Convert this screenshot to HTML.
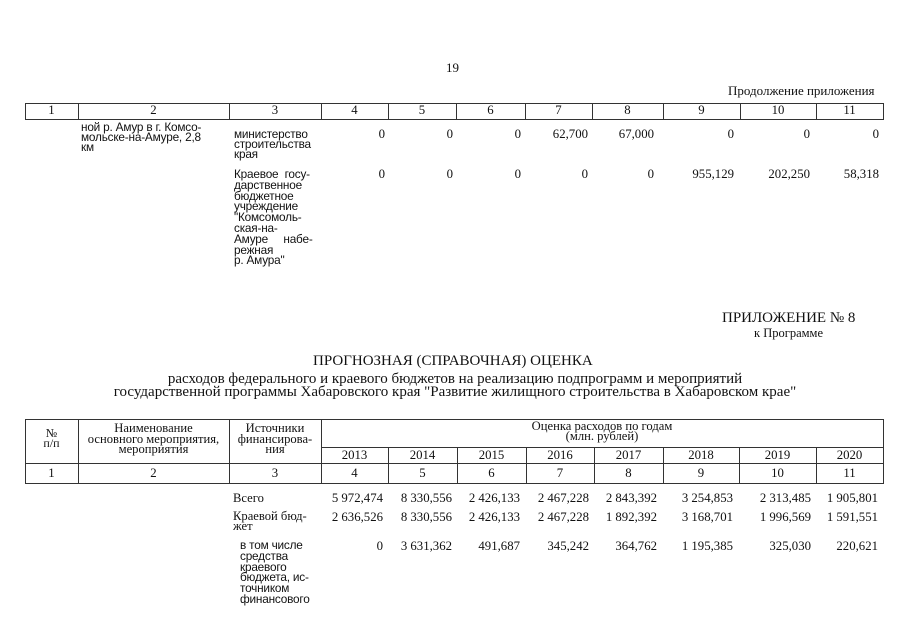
<!DOCTYPE html>
<html><head><meta charset="utf-8"><style>
body{margin:0;width:905px;height:640px;background:#fff;position:relative;overflow:hidden;font-family:"Liberation Serif",serif;color:#111}
.t{position:absolute;white-space:nowrap;font-size:12.8px;line-height:13px}
.r{text-align:right}
.c{text-align:center}
.s{font-family:"Liberation Sans",sans-serif;font-size:11.8px;line-height:10px;letter-spacing:-0.2px}
.h{position:absolute;height:1px;background:#333}
.v{position:absolute;width:1px;background:#333}
</style></head><body>
<div class="t" style="left:446px;top:61px;font-size:13px">19</div>
<div class="t" style="left:728px;top:84px;font-size:13px">Продолжение приложения</div>

<!-- top table -->
<div class="h" style="left:25px;width:859px;top:103px"></div>
<div class="h" style="left:25px;width:859px;top:119px"></div>
<div class="v" style="left:25px;top:103px;height:17px"></div>
<div class="v" style="left:78px;top:103px;height:17px"></div>
<div class="v" style="left:229px;top:103px;height:17px"></div>
<div class="v" style="left:321px;top:103px;height:17px"></div>
<div class="v" style="left:388px;top:103px;height:17px"></div>
<div class="v" style="left:456px;top:103px;height:17px"></div>
<div class="v" style="left:525px;top:103px;height:17px"></div>
<div class="v" style="left:592px;top:103px;height:17px"></div>
<div class="v" style="left:663px;top:103px;height:17px"></div>
<div class="v" style="left:740px;top:103px;height:17px"></div>
<div class="v" style="left:816px;top:103px;height:17px"></div>
<div class="v" style="left:883px;top:103px;height:17px"></div>
<div class="t c" style="left:25px;width:53px;top:104px">1</div>
<div class="t c" style="left:78px;width:151px;top:104px">2</div>
<div class="t c" style="left:229px;width:92px;top:104px">3</div>
<div class="t c" style="left:321px;width:67px;top:104px">4</div>
<div class="t c" style="left:388px;width:68px;top:104px">5</div>
<div class="t c" style="left:456px;width:69px;top:104px">6</div>
<div class="t c" style="left:525px;width:67px;top:104px">7</div>
<div class="t c" style="left:592px;width:71px;top:104px">8</div>
<div class="t c" style="left:663px;width:77px;top:104px">9</div>
<div class="t c" style="left:740px;width:76px;top:104px">10</div>
<div class="t c" style="left:816px;width:67px;top:104px">11</div>

<div class="t s" style="left:81px;top:122px">ной р. Амур в г. Комсо-<br>мольске-на-Амуре, 2,8<br>км</div>
<div class="t s" style="left:234px;top:129px">министерство<br>строительства<br>края</div>
<div class="t s" style="left:234px;top:169px;line-height:10.8px">Краевое&nbsp;&nbsp;госу-<br>дарственное<br>бюджетное<br>учреждение<br>"Комсомоль-<br>ская-на-<br>Амуре&nbsp;&nbsp;&nbsp;&nbsp;&nbsp;набе-<br>режная<br>р. Амура"</div>

<div class="t r" style="right:520px;top:128px">0</div>
<div class="t r" style="right:452px;top:128px">0</div>
<div class="t r" style="right:384px;top:128px">0</div>
<div class="t r" style="right:317px;top:128px">62,700</div>
<div class="t r" style="right:251px;top:128px">67,000</div>
<div class="t r" style="right:171px;top:128px">0</div>
<div class="t r" style="right:95px;top:128px">0</div>
<div class="t r" style="right:26px;top:128px">0</div>

<div class="t r" style="right:520px;top:168px">0</div>
<div class="t r" style="right:452px;top:168px">0</div>
<div class="t r" style="right:384px;top:168px">0</div>
<div class="t r" style="right:317px;top:168px">0</div>
<div class="t r" style="right:251px;top:168px">0</div>
<div class="t r" style="right:171px;top:168px">955,129</div>
<div class="t r" style="right:95px;top:168px">202,250</div>
<div class="t r" style="right:26px;top:168px">58,318</div>

<div class="t" style="left:722px;top:311px;font-size:15px;line-height:15px">ПРИЛОЖЕНИЕ № 8</div>
<div class="t" style="left:754px;top:327px;font-size:12.5px">к Программе</div>
<div class="t" style="left:313px;top:353px;font-size:15px;line-height:16px">ПРОГНОЗНАЯ (СПРАВОЧНАЯ) ОЦЕНКА</div>
<div class="t c" style="left:60px;width:790px;top:373px;font-size:15px;line-height:12.5px">расходов федерального и краевого бюджетов на реализацию подпрограмм и мероприятий<br>государственной программы Хабаровского края "Развитие жилищного строительства в Хабаровском крае"</div>

<!-- bottom table -->
<div class="h" style="left:25px;width:859px;top:419px"></div>
<div class="h" style="left:321px;width:563px;top:447px"></div>
<div class="h" style="left:25px;width:859px;top:463px"></div>
<div class="h" style="left:25px;width:859px;top:483px"></div>
<div class="v" style="left:25px;top:419px;height:65px"></div>
<div class="v" style="left:78px;top:419px;height:65px"></div>
<div class="v" style="left:229px;top:419px;height:65px"></div>
<div class="v" style="left:321px;top:419px;height:65px"></div>
<div class="v" style="left:388px;top:447px;height:37px"></div>
<div class="v" style="left:457px;top:447px;height:37px"></div>
<div class="v" style="left:526px;top:447px;height:37px"></div>
<div class="v" style="left:594px;top:447px;height:37px"></div>
<div class="v" style="left:663px;top:447px;height:37px"></div>
<div class="v" style="left:739px;top:447px;height:37px"></div>
<div class="v" style="left:816px;top:447px;height:37px"></div>
<div class="v" style="left:883px;top:419px;height:65px"></div>

<div class="t c" style="left:25px;width:53px;top:428px;font-size:12px;line-height:10px">№<br>п/п</div>
<div class="t c" style="left:78px;width:151px;top:423px;font-size:12.6px;line-height:10.5px">Наименование<br>основного мероприятия,<br>мероприятия</div>
<div class="t c" style="left:229px;width:92px;top:423px;font-size:12.6px;line-height:10.5px">Источники<br>финансирова-<br>ния</div>
<div class="t c" style="left:321px;width:562px;top:421px;font-size:12.6px;line-height:10px">Оценка расходов по годам<br>(млн. рублей)</div>
<div class="t c" style="left:321px;width:67px;top:449px">2013</div>
<div class="t c" style="left:388px;width:69px;top:449px">2014</div>
<div class="t c" style="left:457px;width:69px;top:449px">2015</div>
<div class="t c" style="left:526px;width:68px;top:449px">2016</div>
<div class="t c" style="left:594px;width:69px;top:449px">2017</div>
<div class="t c" style="left:663px;width:76px;top:449px">2018</div>
<div class="t c" style="left:739px;width:77px;top:449px">2019</div>
<div class="t c" style="left:816px;width:67px;top:449px">2020</div>
<div class="t c" style="left:25px;width:53px;top:467px">1</div>
<div class="t c" style="left:78px;width:151px;top:467px">2</div>
<div class="t c" style="left:229px;width:92px;top:467px">3</div>
<div class="t c" style="left:321px;width:67px;top:467px">4</div>
<div class="t c" style="left:388px;width:69px;top:467px">5</div>
<div class="t c" style="left:457px;width:69px;top:467px">6</div>
<div class="t c" style="left:526px;width:68px;top:467px">7</div>
<div class="t c" style="left:594px;width:69px;top:467px">8</div>
<div class="t c" style="left:663px;width:76px;top:467px">9</div>
<div class="t c" style="left:739px;width:77px;top:467px">10</div>
<div class="t c" style="left:816px;width:67px;top:467px">11</div>

<div class="t" style="left:233px;top:492px;font-size:12.6px">Всего</div>
<div class="t" style="left:233px;top:511px;font-size:12.6px;line-height:10px">Краевой бюд-<br>жет</div>
<div class="t s" style="left:240px;top:540px;line-height:10.8px">в том числе<br>средства<br>краевого<br>бюджета, ис-<br>точником<br>финансового</div>

<div class="t r" style="right:522px;top:492px">5 972,474</div>
<div class="t r" style="right:453px;top:492px">8 330,556</div>
<div class="t r" style="right:385px;top:492px">2 426,133</div>
<div class="t r" style="right:316px;top:492px">2 467,228</div>
<div class="t r" style="right:248px;top:492px">2 843,392</div>
<div class="t r" style="right:172px;top:492px">3 254,853</div>
<div class="t r" style="right:94px;top:492px">2 313,485</div>
<div class="t r" style="right:27px;top:492px">1 905,801</div>

<div class="t r" style="right:522px;top:511px">2 636,526</div>
<div class="t r" style="right:453px;top:511px">8 330,556</div>
<div class="t r" style="right:385px;top:511px">2 426,133</div>
<div class="t r" style="right:316px;top:511px">2 467,228</div>
<div class="t r" style="right:248px;top:511px">1 892,392</div>
<div class="t r" style="right:172px;top:511px">3 168,701</div>
<div class="t r" style="right:94px;top:511px">1 996,569</div>
<div class="t r" style="right:27px;top:511px">1 591,551</div>

<div class="t r" style="right:522px;top:540px">0</div>
<div class="t r" style="right:453px;top:540px">3 631,362</div>
<div class="t r" style="right:385px;top:540px">491,687</div>
<div class="t r" style="right:316px;top:540px">345,242</div>
<div class="t r" style="right:248px;top:540px">364,762</div>
<div class="t r" style="right:172px;top:540px">1 195,385</div>
<div class="t r" style="right:94px;top:540px">325,030</div>
<div class="t r" style="right:27px;top:540px">220,621</div>
</body></html>
